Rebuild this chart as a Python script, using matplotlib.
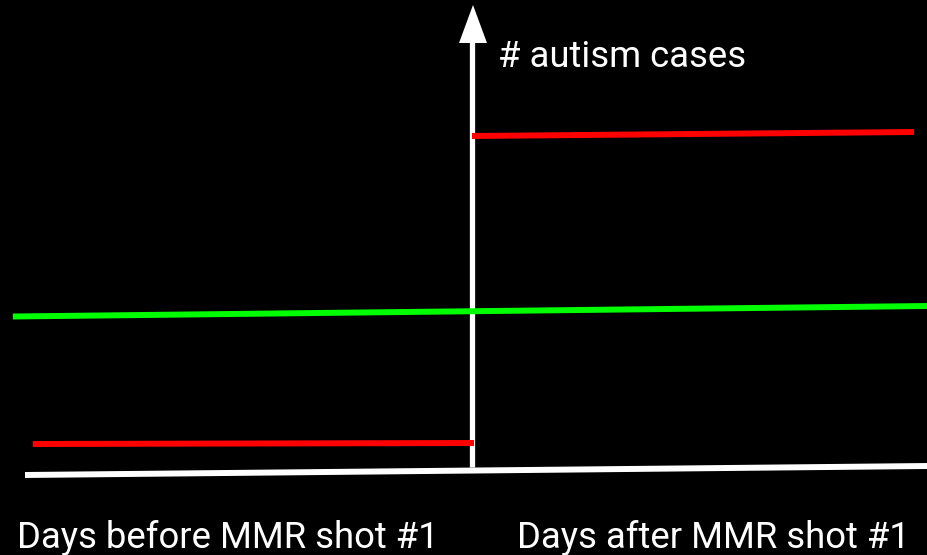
import matplotlib
matplotlib.use("Agg")
import matplotlib.pyplot as plt
from matplotlib.patches import Polygon

# Sketch drawn in a pixel-like canvas: x to the right, y downward.
W, H = 928, 555

# horizontal time axis (slightly tilted, hand-drawn look)
time_axis_x = [25, 928]
time_axis_y = [475, 466]

# vertical "# autism cases" axis with arrow head
case_axis_x = [472, 472]
case_axis_y = [467, 42]
arrow_head_x = [459, 487, 473]
arrow_head_y = [43, 43, 5]

# red: "all cases cluster after the shot" hypothesis
red_before_x = [33, 474]
red_before_y = [444, 443]
red_after_x = [472, 914]
red_after_y = [136, 132]

# green: flat rate, no effect of the shot
green_x = [13, 928]
green_y = [316.5, 306]

y_label = "# autism cases"
x_labels = ["Days before MMR shot #1", "Days after MMR shot #1"]
x_label_pos = [17, 517]

plt.rcParams["font.family"] = ["Roboto", "DejaVu Sans"]

fig = plt.figure(figsize=(W / 100, H / 100), dpi=100, facecolor="black")
ax = fig.add_axes([0, 0, 1, 1])
ax.set_facecolor("black")
ax.set_xlim(0, W)
ax.set_ylim(H, 0)
ax.axis("off")

lw = 4.3
ax.plot(time_axis_x, time_axis_y, color="white", lw=lw, solid_capstyle="butt", zorder=2)
ax.plot(case_axis_x, case_axis_y, color="white", lw=3.8, solid_capstyle="butt", zorder=2)
ax.add_patch(Polygon(list(zip(arrow_head_x, arrow_head_y)), closed=True,
                     facecolor="white", edgecolor="none", zorder=2))

ax.plot(red_before_x, red_before_y, color="#ff0000", lw=lw, solid_capstyle="butt", zorder=3)
ax.plot(red_after_x, red_after_y, color="#ff0000", lw=lw, solid_capstyle="butt", zorder=3)
ax.plot(green_x, green_y, color="#00ff00", lw=lw, solid_capstyle="butt", zorder=4)

ax.text(498, 67, y_label, color="white", fontsize=26.3, va="baseline", ha="left")
for x, label in zip(x_label_pos, x_labels):
    ax.text(x, 548, label, color="white", fontsize=26.3, va="baseline", ha="left")

fig.savefig("out.png", dpi=100, facecolor="black")
